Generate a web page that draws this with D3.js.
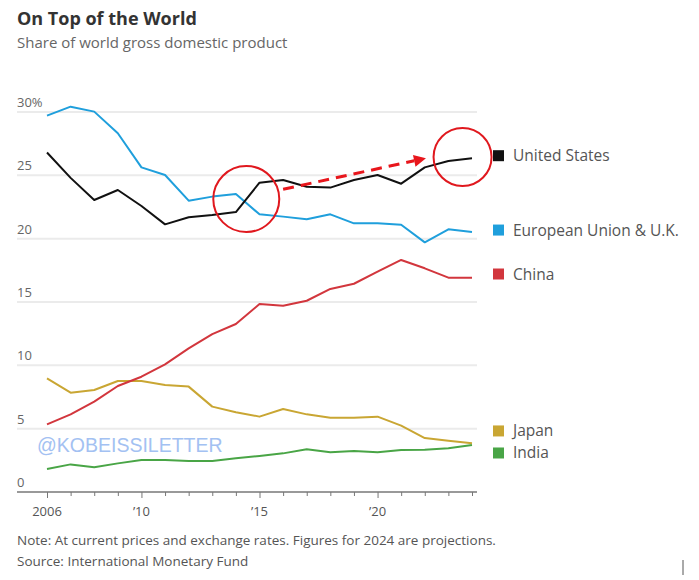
<!DOCTYPE html>
<html><head><meta charset="utf-8">
<script src="https://cdn.jsdelivr.net/npm/d3@7"></script>
<style>body{margin:0;background:#fff;} svg{display:block;}</style>
</head><body>
<script>
const years = d3.range(2006, 2025);
const usValues = [26.8,24.8,23.05,23.84,22.58,21.13,21.69,21.87,22.1,24.42,24.63,24.1,24.03,24.63,25.03,24.34,25.63,26.13,26.34];
const euValues = [29.71,30.42,30.03,28.32,25.63,25.03,23.0,23.32,23.53,21.92,21.74,21.53,21.92,21.21,21.21,21.1,19.71,20.74,20.53];
const chinaValues = [5.34,6.13,7.13,8.37,9.1,10.08,11.34,12.47,13.26,14.84,14.71,15.1,16.03,16.44,17.39,18.32,17.66,16.92,16.92];
const japanValues = [8.97,7.84,8.05,8.76,8.76,8.45,8.32,6.74,6.3,5.95,6.55,6.13,5.87,5.87,5.95,5.24,4.26,4.05,3.84];
const indiaValues = [1.82,2.18,1.95,2.26,2.53,2.53,2.45,2.45,2.66,2.84,3.05,3.37,3.13,3.24,3.13,3.32,3.34,3.45,3.71];
const seriesNames = ["United States","European Union & U.K.","China","Japan","India"];
const seriesColors = ["#111111","#1f9fdc","#d2363d","#c9a633","#49a546"];
const yTicks = [0,5,10,15,20,25,30];
const yTickLabels = ["0","5","10","15","20","25","30%"];
const xMajorTicks = [2006,2010,2015,2020];
const xTickLabels = ["2006","\u201910","\u201915","\u201920"];
const legendYValues = [26.55,20.68,17.21,4.82,3.08];

const W = 699, H = 580;
const svg = d3.select("body").append("svg").attr("width", W).attr("height", H);
const font = "'Open Sans', 'Noto Sans', sans-serif";

const x = d3.scaleLinear().domain([2006, 2024]).range([47, 472]);
const y = d3.scaleLinear().domain([0, 30]).range([492, 112]);

svg.append("text").attr("x", 17).attr("y", 25).text("On Top of the World")
  .attr("font-family", font).attr("font-weight", 700).attr("font-size", 18).attr("fill", "#333");
svg.append("text").attr("x", 17).attr("y", 48).text("Share of world gross domestic product")
  .attr("font-family", font).attr("font-size", 15).attr("fill", "#666");

// gridlines
svg.append("g").selectAll("line").data(yTicks.filter(d => d > 0)).join("line")
  .attr("x1", 17).attr("x2", 477).attr("y1", d => y(d)).attr("y2", d => y(d))
  .attr("stroke", "#ebebeb").attr("stroke-width", 2);
svg.append("g").selectAll("text").data(yTicks).join("text")
  .attr("x", 17).attr("y", d => y(d) - 5).text((d, i) => yTickLabels[i])
  .attr("font-family", font).attr("font-size", 13).attr("fill", "#666");

// x axis
const xAxis = d3.axisBottom(x).tickValues(years).tickSize(4).tickFormat("");
const gx = svg.append("g").attr("transform", "translate(0,492)").call(xAxis);
gx.select(".domain").attr("d", "M17,0H477").attr("stroke", "#777").attr("stroke-width", 1.5);
gx.selectAll(".tick line").attr("stroke", "#777").attr("y2", d => xMajorTicks.includes(d) ? 6 : 4);
svg.append("g").selectAll("text").data(xMajorTicks).join("text")
  .attr("x", d => x(d)).attr("y", 516).attr("text-anchor", "middle").text((d, i) => xTickLabels[i])
  .attr("font-family", font).attr("font-size", 13).attr("fill", "#555");

// watermark
svg.append("text").attr("x", 37).attr("y", 452).text("@KOBEISSILETTER")
  .attr("font-family", "'Liberation Sans', Arial, sans-serif").attr("font-size", 19.5)
  .attr("fill", "#a3c1f2");

// lines
const allSeries = [usValues, euValues, chinaValues, japanValues, indiaValues];
const line = d3.line().x((d, i) => x(years[i])).y(d => y(d));
const order = [4,3,2,1,0];
svg.append("g").selectAll("path").data(order).join("path")
  .attr("d", k => line(allSeries[k])).attr("fill", "none")
  .attr("stroke", k => seriesColors[k]).attr("stroke-width", 2).attr("stroke-linejoin", "round");

// legend
const lg = svg.append("g").selectAll("g").data(seriesNames).join("g")
  .attr("transform", (d, i) => `translate(493,${y(legendYValues[i])})`);
lg.append("rect").attr("x", 0).attr("y", -5.5).attr("width", 11).attr("height", 11)
  .attr("fill", (d, i) => seriesColors[i]);
lg.append("text").attr("x", 20).attr("y", 5.5).text(d => d)
  .attr("font-family", font).attr("font-size", 15.5).attr("fill", "#555");

// annotations
svg.append("circle").attr("cx", x(2014.44)).attr("cy", y(23.13)).attr("r", 33)
  .attr("fill", "none").attr("stroke", "#e0181e").attr("stroke-width", 2);
svg.append("circle").attr("cx", x(2023.6)).attr("cy", y(26.45)).attr("r", 29)
  .attr("fill", "none").attr("stroke", "#e0181e").attr("stroke-width", 2);
const ax1 = x(2016), ay1 = y(23.9), ax2 = x(2022.05), ay2 = y(26.35);
const ang = Math.atan2(ay2 - ay1, ax2 - ax1);
const headLen = 12;
const bx = ax2 - headLen * Math.cos(ang), by = ay2 - headLen * Math.sin(ang);
svg.append("line").attr("x1", ax1).attr("y1", ay1).attr("x2", bx).attr("y2", by)
  .attr("stroke", "#e8161c").attr("stroke-width", 3).attr("stroke-dasharray", "11,7");
const px = Math.sin(ang), py = -Math.cos(ang);
svg.append("path").attr("d", `M${ax2},${ay2}L${bx + 6*px},${by + 6*py}L${bx - 6*px},${by - 6*py}Z`)
  .attr("fill", "#e8161c");

// footnotes
svg.append("text").attr("x", 17).attr("y", 545).text("Note: At current prices and exchange rates. Figures for 2024 are projections.")
  .attr("font-family", font).attr("font-size", 13.5).attr("fill", "#555");
svg.append("text").attr("x", 17).attr("y", 566).text("Source: International Monetary Fund")
  .attr("font-family", font).attr("font-size", 13.5).attr("fill", "#555");
svg.append("line").attr("x1", 683).attr("x2", 683).attr("y1", 560).attr("y2", 575).attr("stroke", "#555");
</script>
</body></html>
